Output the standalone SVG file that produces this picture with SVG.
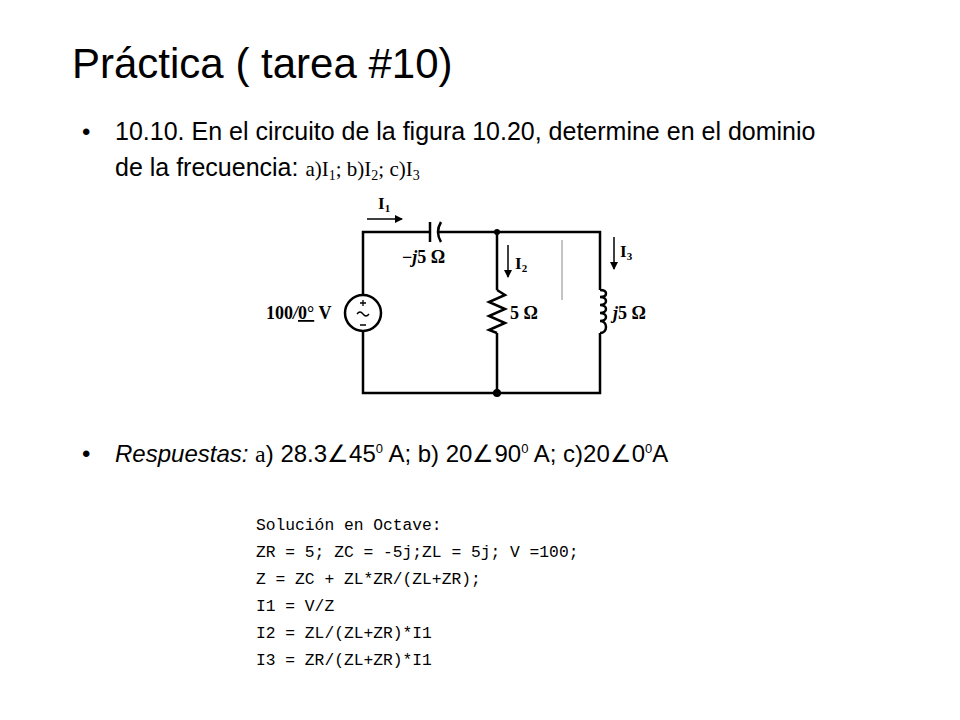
<svg xmlns="http://www.w3.org/2000/svg" width="960" height="720" viewBox="0 0 960 720">
<defs>
<style>
.t{font-family:"Liberation Sans",Arial,sans-serif;fill:#000}
.s{font-family:"Liberation Serif","Times New Roman",serif;fill:#000}
.m{font-family:"Liberation Mono","Courier New",monospace;font-size:16.3px;fill:#000}
.w{stroke:#000;stroke-width:2.5;fill:none}
</style>
<marker id="ar" markerWidth="8" markerHeight="8" refX="7" refY="4" orient="auto" markerUnits="userSpaceOnUse"><path d="M0,0 L8,4 L0,8 z" fill="#000"/></marker>
</defs>
<rect width="960" height="720" fill="#fff"/>
<text class="t" x="72" y="78" font-size="42">Práctica ( tarea #10)</text>
<text class="t" x="82" y="140" font-size="24">•</text>
<text class="t" x="115" y="140" font-size="25">10.10. En el circuito de la figura 10.20, determine en el dominio</text>
<text class="t" x="115" y="176" font-size="25">de la frecuencia: <tspan class="s" font-size="21">a)I<tspan font-size="14" dy="4">1</tspan><tspan dy="-4">; b)I</tspan><tspan font-size="14" dy="4">2</tspan><tspan dy="-4">; c)I</tspan><tspan font-size="14" dy="4">3</tspan></tspan></text>
<g id="circuit">
<g id="connectors">
<path class="w" d="M363,295 V232 H430 M438,232 H600 V290 M600,333 V393 H363 V331"/>
<path class="w" d="M497,232 V290 M497,333 V393"/>
<path stroke="#888" stroke-width="1" d="M562,240 V300"/>
</g>
<circle cx="497" cy="232" r="3" fill="#000"/>
<circle cx="497" cy="393" r="4" fill="#000"/>
<g id="source"><circle class="w" cx="363" cy="313" r="18"/>
<path stroke="#000" stroke-width="1.3" d="M360,303 h6 M363,300 v6 M360,325 h6"/>
<path stroke="#000" stroke-width="1.3" fill="none" d="M357,314 q3,-4 6,0 t6,0"/>
<text class="s" x="266" y="319" font-size="18" font-weight="bold">100<tspan font-style="italic">/</tspan><tspan text-decoration="underline">0°</tspan> V</text></g>
<g id="cap"><path class="w" d="M430,222 V242"/><path class="w" d="M441,222 Q435,232 441,242"/>
<text class="s" x="402" y="263" font-size="18" font-weight="bold">−<tspan font-style="italic">j</tspan>5 Ω</text></g>
<g id="res"><path class="w" d="M497,290 L505,295 L489,302 L505,309 L489,316 L505,323 L489,330 L497,333"/>
<text class="s" x="510" y="319" font-size="18" font-weight="bold">5 Ω</text></g>
<g id="ind"><path class="w" d="M600,290 c8,0 8,7 0,7 c8,0 8,8 0,8 c8,0 8,8 0,8 c8,0 8,8 0,8 c8,0 8,12 0,12"/>
<text class="s" x="613" y="319" font-size="18" font-weight="bold"><tspan font-style="italic">j</tspan>5 Ω</text></g>
<g id="labels">
<path stroke="#000" stroke-width="1.5" d="M367,219 H402" marker-end="url(#ar)"/>
<text class="s" x="378" y="209" font-size="17" font-weight="bold">I<tspan font-size="11" dy="3">1</tspan></text>
<path stroke="#000" stroke-width="1.5" d="M508,245 V277" marker-end="url(#ar)"/>
<text class="s" x="515" y="269" font-size="17" font-weight="bold">I<tspan font-size="11" dy="3">2</tspan></text>
<path stroke="#000" stroke-width="1.5" d="M614,237 V269" marker-end="url(#ar)"/>
<text class="s" x="620" y="257" font-size="17" font-weight="bold">I<tspan font-size="11" dy="3">3</tspan></text>
</g>
</g>
<text class="t" x="82" y="462" font-size="24">•</text>
<text class="t" x="115" y="462" font-size="24"><tspan font-style="italic">Respuestas:</tspan> <tspan class="s">a</tspan>) 28.3∠45<tspan font-size="13" dy="-9">0</tspan><tspan dy="9"> A; b) 20∠90</tspan><tspan font-size="13" dy="-9">0</tspan><tspan dy="9"> A; c)20∠0</tspan><tspan font-size="13" dy="-9">0</tspan><tspan dy="9">A</tspan></text>
<text class="m" x="256" y="530">Solución en Octave:</text>
<text class="m" x="256" y="557">ZR = 5; ZC = -5j;ZL = 5j; V =100;</text>
<text class="m" x="256" y="584">Z = ZC + ZL*ZR/(ZL+ZR);</text>
<text class="m" x="256" y="611">I1 = V/Z</text>
<text class="m" x="256" y="638">I2 = ZL/(ZL+ZR)*I1</text>
<text class="m" x="256" y="665">I3 = ZR/(ZL+ZR)*I1</text>
</svg>
